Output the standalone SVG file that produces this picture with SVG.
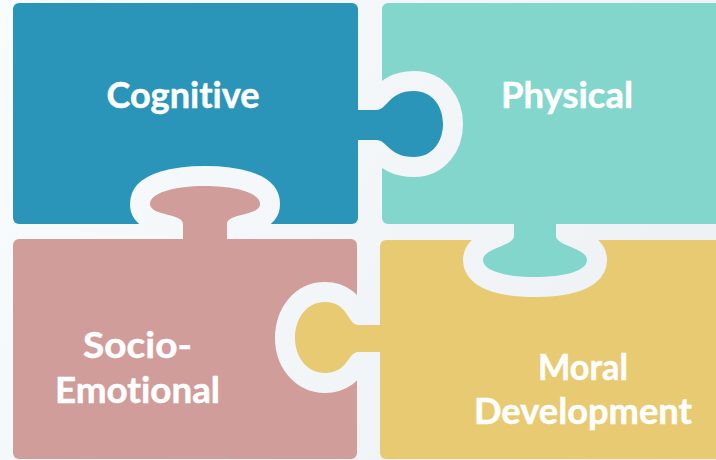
<svg xmlns="http://www.w3.org/2000/svg" xmlns:xlink="http://www.w3.org/1999/xlink" width="716" height="460" viewBox="0 0 716 460">
  <style>
    .lbl { font-family: "Lato", "Liberation Sans", sans-serif; font-weight: 700; font-size: 37px; fill: #ffffff; stroke: #ffffff; stroke-width: 0.5; stroke-linejoin: round; text-anchor: middle; font-variant-ligatures: none; font-feature-settings: "liga" 0; }
    .cut { fill: #000; stroke: #000; stroke-width: 40; stroke-linejoin: round; }
  </style>
  <defs>
    <linearGradient id="bg" gradientUnits="userSpaceOnUse" x1="0" y1="0" x2="716" y2="460">
      <stop offset="0" stop-color="#f9fcfd"/>
      <stop offset="1" stop-color="#ecf0f3"/>
    </linearGradient>
    <path id="k-cog" d="M 345 110 L 376 110 C 388 110 388 91 414 91 C 432 91 443 106 443 124 C 443 142 432 157 414 157 C 388 157 388 140 376 140 L 345 140 Z"/>
    <path id="k-soc" d="M 183 246 L 183 224 C 183 213 150 216 150 204 C 150 193 174 186 205 186 C 236 186 260 193 260 204 C 260 216 227 213 227 224 L 227 246 Z"/>
    <path id="k-phy" d="M 514 215 L 514 236 C 514 246 483 248 483 260 C 483 271 506 277 535 277 C 564 277 587 271 587 260 C 587 248 556 246 556 236 L 556 215 Z"/>
    <path id="k-mor" d="M 390 325 L 358 325 C 348 325 348 302 325 302 C 307 302 295 318 295 338 C 295 357 307 373 325 373 C 348 373 348 352 358 352 L 390 352 Z"/>
    <mask id="m-cog" maskUnits="userSpaceOnUse" x="0" y="0" width="716" height="460">
      <rect x="0" y="0" width="716" height="460" fill="#fff"/>
      <use xlink:href="#k-soc" class="cut"/>
    </mask>
    <mask id="m-phy" maskUnits="userSpaceOnUse" x="0" y="0" width="716" height="460">
      <rect x="0" y="0" width="716" height="460" fill="#fff"/>
      <use xlink:href="#k-cog" class="cut"/>
    </mask>
    <mask id="m-mor" maskUnits="userSpaceOnUse" x="0" y="0" width="716" height="460">
      <rect x="0" y="0" width="716" height="460" fill="#fff"/>
      <use xlink:href="#k-phy" class="cut"/>
    </mask>
    <mask id="m-soc" maskUnits="userSpaceOnUse" x="0" y="0" width="716" height="460">
      <rect x="0" y="0" width="716" height="460" fill="#fff"/>
      <use xlink:href="#k-mor" class="cut"/>
    </mask>
  </defs>

  <rect x="0" y="0" width="716" height="460" fill="url(#bg)"/>

  <g id="cognitive">
    <rect x="13" y="3" width="345" height="221" rx="6" fill="#2a95b8" mask="url(#m-cog)"/>
    <use xlink:href="#k-cog" fill="#2a95b8"/>
    <text class="lbl" x="183" y="108" textLength="153" lengthAdjust="spacingAndGlyphs">Cognitive</text>
  </g>

  <g id="physical">
    <rect x="382" y="3" width="345" height="221" rx="6" fill="#82d6cc" mask="url(#m-phy)"/>
    <use xlink:href="#k-phy" fill="#82d6cc"/>
    <text class="lbl" x="567" y="108" textLength="132" lengthAdjust="spacingAndGlyphs">Physical</text>
  </g>

  <g id="socio-emotional">
    <rect x="13" y="239" width="344" height="220" rx="6" fill="#d09d9b" mask="url(#m-soc)"/>
    <use xlink:href="#k-soc" fill="#d09d9b"/>
    <text class="lbl" x="137.5" y="358" textLength="109" lengthAdjust="spacingAndGlyphs">Socio-</text>
    <text class="lbl" x="137.5" y="403" textLength="165" lengthAdjust="spacingAndGlyphs">Emotional</text>
  </g>

  <g id="moral-development">
    <rect x="380" y="240" width="345" height="219" rx="6" fill="#e8ca73" mask="url(#m-mor)"/>
    <use xlink:href="#k-mor" fill="#e8ca73"/>
    <text class="lbl" x="583" y="380" textLength="90" lengthAdjust="spacingAndGlyphs">Moral</text>
    <text class="lbl" x="583" y="424" textLength="218" lengthAdjust="spacingAndGlyphs">Development</text>
  </g>

  <g id="connectors"/>
</svg>
